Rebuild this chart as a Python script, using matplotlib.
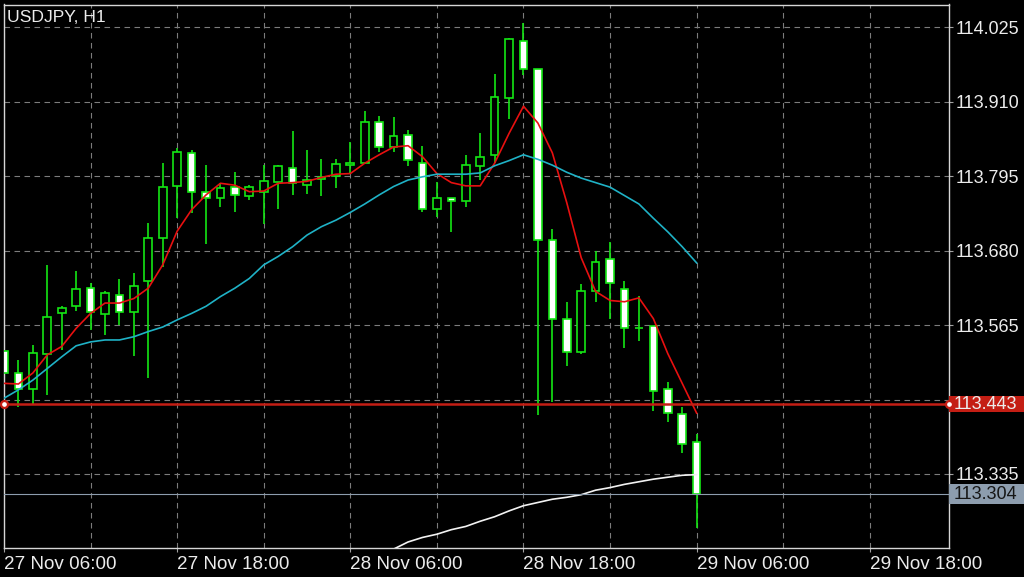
#!/usr/bin/env python3
"""
plot.py — USDJPY H1 candlestick chart, terminal style (green on black)
"""
import matplotlib
matplotlib.use('Agg')
import matplotlib.pyplot as plt
import matplotlib.transforms as mtransforms
from matplotlib.patches import Rectangle
import numpy as np

plt.rcParams['font.family'] = ['Liberation Sans', 'DejaVu Sans']

# ─── Data (one bar per hour from 27 Nov 06:00) ─────────────────────────
opens = [113.525, 113.491, 113.467, 113.520, 113.583, 113.594, 113.623, 113.582,
         113.611, 113.585, 113.633, 113.699, 113.780, 113.830, 113.770, 113.762,
         113.779, 113.765, 113.770, 113.786, 113.808, 113.782, 113.791, 113.795,
         113.812, 113.816, 113.879, 113.840, 113.859, 113.816, 113.744, 113.762,
         113.756, 113.811, 113.827, 113.915, 114.004, 113.960, 113.696, 113.574,
         113.523, 113.617, 113.667, 113.620, 113.561, 113.564, 113.466, 113.428,
         113.384]
highs = [113.530, 113.511, 113.534, 113.658, 113.594, 113.648, 113.630, 113.618,
         113.636, 113.645, 113.722, 113.816, 113.838, 113.836, 113.812, 113.784,
         113.801, 113.782, 113.812, 113.812, 113.865, 113.836, 113.822, 113.822,
         113.847, 113.896, 113.888, 113.887, 113.866, 113.842, 113.786, 113.762,
         113.827, 113.861, 113.953, 114.008, 114.031, 113.960, 113.713, 113.601,
         113.628, 113.680, 113.693, 113.633, 113.610, 113.564, 113.477, 113.438,
         113.396]
lows = [113.488, 113.439, 113.442, 113.457, 113.526, 113.587, 113.557, 113.550,
        113.565, 113.517, 113.483, 113.655, 113.730, 113.738, 113.690, 113.747,
        113.740, 113.758, 113.721, 113.744, 113.766, 113.768, 113.764, 113.776,
        113.799, 113.814, 113.833, 113.833, 113.811, 113.740, 113.732, 113.708,
        113.748, 113.789, 113.815, 113.883, 113.951, 113.426, 113.446, 113.502,
        113.520, 113.600, 113.574, 113.530, 113.541, 113.432, 113.416, 113.367,
        113.252]
closes = [113.491, 113.466, 113.522, 113.577, 113.592, 113.620, 113.585, 113.614,
          113.585, 113.626, 113.699, 113.779, 113.833, 113.770, 113.761, 113.776,
          113.766, 113.779, 113.787, 113.810, 113.784, 113.789, 113.794, 113.813,
          113.815, 113.879, 113.840, 113.857, 113.820, 113.744, 113.762, 113.757,
          113.812, 113.824, 113.918, 114.007, 113.960, 113.696, 113.575, 113.524,
          113.618, 113.663, 113.630, 113.560, 113.560, 113.463, 113.429, 113.382,
          113.304]

# moving averages as drawn on the chart
ma_red = [113.475, 113.474, 113.491, 113.519, 113.532, 113.560, 113.583, 113.599,
          113.599, 113.606, 113.622, 113.658, 113.710, 113.743, 113.766, 113.784,
          113.781, 113.771, 113.772, 113.784, 113.785, 113.787, 113.793, 113.798,
          113.799, 113.815, 113.828, 113.840, 113.842, 113.825, 113.799, 113.785,
          113.780, 113.780, 113.815, 113.861, 113.903, 113.877, 113.831, 113.754,
          113.669, 113.617, 113.603, 113.601, 113.607, 113.575, 113.521, 113.475,
          113.429]
ma_cyan = [113.452, 113.465, 113.480, 113.498, 113.516, 113.533, 113.539, 113.542,
           113.542, 113.547, 113.555, 113.562, 113.573, 113.583, 113.594, 113.609,
           113.622, 113.637, 113.658, 113.671, 113.686, 113.704, 113.717, 113.727,
           113.739, 113.752, 113.766, 113.779, 113.789, 113.794, 113.798, 113.798,
           113.798, 113.800, 113.811, 113.819, 113.828, 113.821, 113.812, 113.801,
           113.792, 113.785, 113.778, 113.765, 113.752, 113.730, 113.709, 113.686,
           113.661]
ma_white_start = 27
ma_white = [113.219, 113.230, 113.237, 113.242, 113.249, 113.254, 113.262, 113.269,
            113.278, 113.286, 113.291, 113.296, 113.299, 113.303, 113.310, 113.314,
            113.319, 113.323, 113.327, 113.330, 113.333, 113.334]

price_ticks = [113.335, 113.450, 113.565, 113.680, 113.795, 113.910, 114.025]
price_labels = ['113.335', '', '113.565', '113.680', '113.795', '113.910', '114.025']
time_ticks = [0, 12, 24, 36, 48, 60]
time_labels = ['27 Nov 06:00', '27 Nov 18:00', '28 Nov 06:00',
               '28 Nov 18:00', '29 Nov 06:00', '29 Nov 18:00']
grid_minor = [6, 18, 30, 42, 54]

level_price = 113.443
bid_price = 113.304
symbol = 'USDJPY, H1'

# ─── Colours ──────────────────────────────────────────────────
GREEN = '#14e614'
RED = '#e81010'
CYAN = '#1fb2c6'
LEVEL_RED = '#c41e14'
BID_GREY = '#8d9dae'
TEXT = '#ececec'
GRID = '#7c7c7c'

W, H = 1024, 577
fig = plt.figure(figsize=(W / 100, H / 100), dpi=100, facecolor='black')
ax = fig.add_axes([4 / W, 1 - 548 / H, 944.5 / W, 543.5 / H])
ax.set_facecolor('black')

bar_px = 14.43
ax.set_xlim(0, 944.5 / bar_px)
ax.set_ylim(113.2207, 114.0601)

x = np.arange(len(opens))
o = np.array(opens)
c = np.array(closes)

# wicks, then bodies (bull = hollow, bear = white)
ax.vlines(x, lows, highs, color=GREEN, lw=1.2, zorder=2)
faces = ['black' if cc > oo else 'white' for oo, cc in zip(o, c)]
ax.bar(x, c - o, bottom=o, width=0.53, color=faces, edgecolor=GREEN,
       linewidth=1.2, zorder=3)

# indicators
ax.plot(x, ma_red, color=RED, lw=1.2, zorder=4)
ax.plot(x, ma_cyan, color=CYAN, lw=1.2, zorder=4)
xw = np.arange(ma_white_start, ma_white_start + len(ma_white))
ax.plot(xw, ma_white, color='#f2f2f2', lw=1.2, zorder=4)

# price level + bid line
ax.axhline(level_price, color=LEVEL_RED, lw=1.8, zorder=4)
ax.axhline(bid_price, color=BID_GREY, lw=0.8, zorder=4)
x0, x1 = ax.get_xlim()
ax.plot([x0, x1], [level_price, level_price], 'o', ms=5, mfc='white',
        mec=LEVEL_RED, mew=1.6, clip_on=False, zorder=6)

# grid / axes
ax.set_axisbelow(True)
ax.yaxis.tick_right()
ax.set_yticks(price_ticks)
ax.set_yticklabels(price_labels)
ax.set_xticks(time_ticks)
ax.set_xticklabels(time_labels, ha='left')
ax.set_xticks(grid_minor, minor=True)
ax.grid(True, which='both', color=GRID, lw=0.8, linestyle=(0, (5, 4)))
ax.tick_params(axis='y', colors='#a0a0a0', labelcolor=TEXT, length=3,
               width=0.8, pad=2, labelsize=13)
ax.tick_params(axis='x', colors='#a0a0a0', labelcolor=TEXT, length=3,
               width=0.8, pad=2.5, labelsize=13.6)
ax.tick_params(axis='x', which='minor', length=0)
for s in ax.spines.values():
    s.set_color('#d6d6d6')
    s.set_linewidth(1.0)

# price tags on the right
trans = mtransforms.blended_transform_factory(ax.transAxes, ax.transData)
tag_w = (W - 948.5) / 944.5
ax.add_patch(Rectangle((1.0, level_price - 0.0125), tag_w, 0.025, transform=trans,
                       facecolor=LEVEL_RED, edgecolor='none', clip_on=False, zorder=5))
ax.text(1.0 + 5 / 944.5, level_price, f'{level_price:.3f}', transform=trans,
        color=TEXT, fontsize=13, va='center', ha='left', zorder=6, clip_on=False)
ax.add_patch(Rectangle((1.0, bid_price - 0.0152), tag_w, 0.0304, transform=trans,
                       facecolor=BID_GREY, edgecolor='none', clip_on=False, zorder=5))
ax.text(1.0 + 5 / 944.5, bid_price, f'{bid_price:.3f}', transform=trans,
        color='#161616', fontsize=13, va='center', ha='left', zorder=6, clip_on=False)

# symbol caption
ax.text(3 / 944.5, 1 - 12.5 / 543.5, symbol, transform=ax.transAxes,
        color=TEXT, fontsize=12.6, va='center', ha='left', zorder=7)

fig.savefig('out.png', dpi=100, facecolor='black')
